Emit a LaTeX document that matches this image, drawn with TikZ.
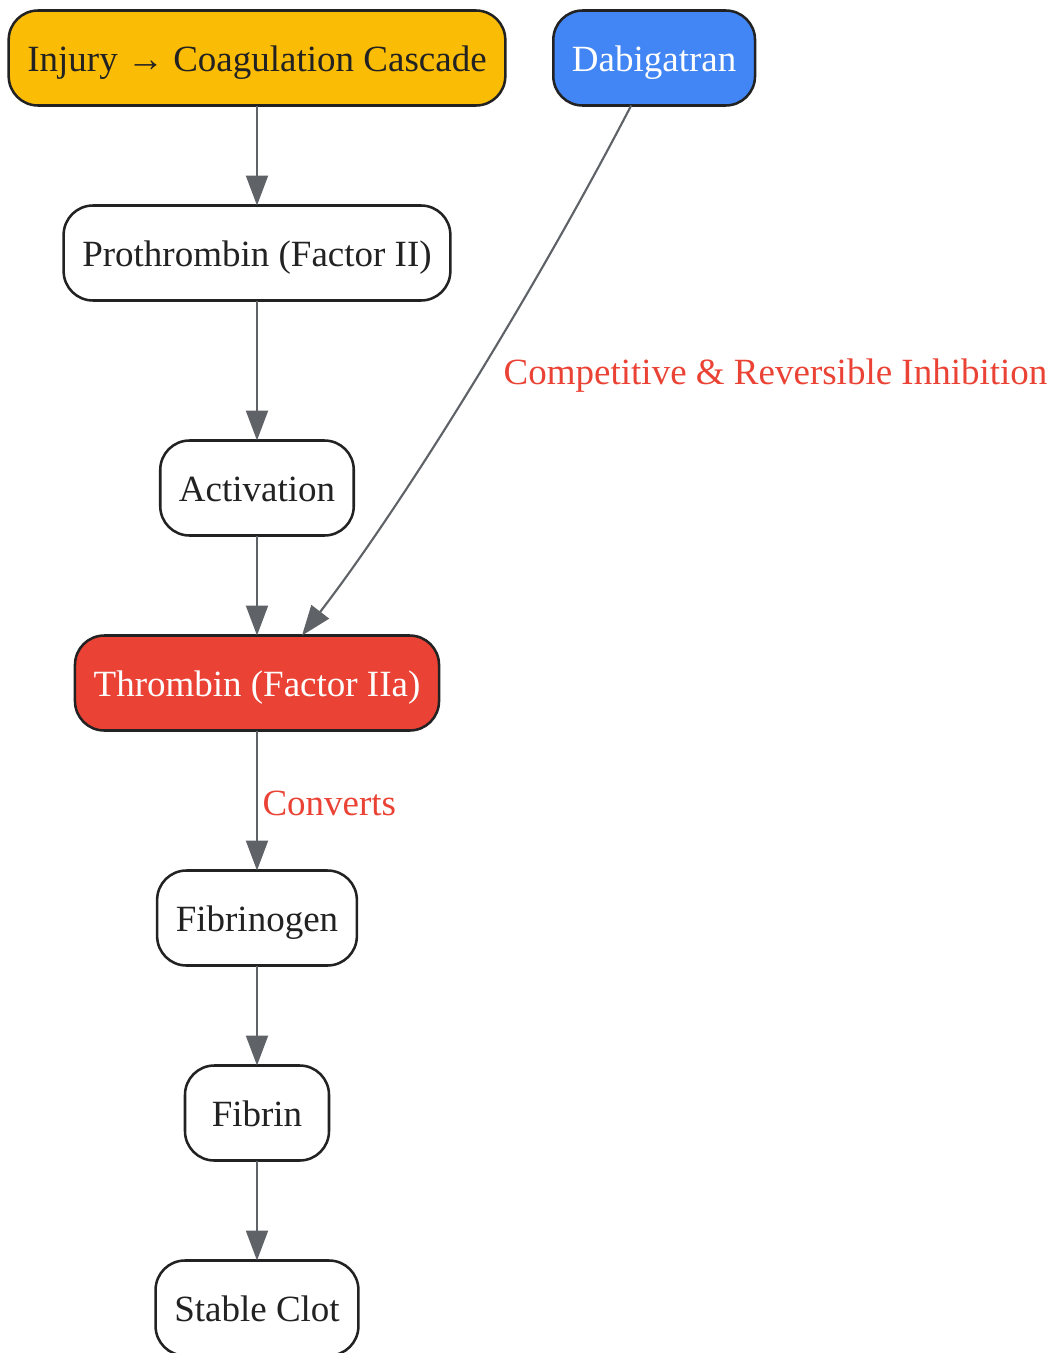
\documentclass[tikz,border=0pt]{standalone}
\usepackage{fontspec}
\setmainfont{Liberation Serif}
\usetikzlibrary{positioning,arrows.meta,calc}
\definecolor{cascade}{HTML}{FBBC05}
\definecolor{drug}{HTML}{4285F4}
\definecolor{enzyme}{HTML}{EA4335}
\definecolor{edgegray}{HTML}{5F6368}
\definecolor{ink}{HTML}{222222}
\begin{document}
\begin{tikzpicture}[x=0.75pt,y=-0.75pt,node distance=75pt,
  >={Triangle[length=22.5pt,width=16.5pt]},
  step node/.style={draw=ink,line width=1.9pt,fill=white,rounded corners=22pt,
    minimum height=71.25pt,inner xsep=14pt,outer sep=0pt,text=ink,
    text height=24pt,text depth=4pt,
    font=\fontsize{27.75}{33}\selectfont},
  flow/.style={->,color=edgegray,line width=1.6pt},
  edge label/.style={text=enzyme,font=\fontsize{27.75}{33}\selectfont}]
            \useasboundingbox (0,0) rectangle (1054,1353);
            \node[step node,fill=cascade] (inj) at (257,58) {Injury → Coagulation Cascade};
            \node[step node,fill=drug,text=white] (dab) [right=36pt of inj]{Dabigatran};
            \node[step node] (pro) [below=of inj]{Prothrombin (Factor II)};
            \node[step node] (act) [below=105pt of pro]{Activation};
            \node[step node,fill=enzyme,text=white] (thr) [below=of act]{Thrombin (Factor IIa)};
            \node[step node] (fbg) [below=105pt of thr]{Fibrinogen};
            \node[step node,minimum width=108pt] (fib) [below=of fbg]{Fibrin};
            \node[step node] (clot) [below=of fib]{Stable Clot};

            \path[flow]
                (inj) edge (pro)
                (pro) edge (act)
                (act) edge (thr)
                (thr) edge node[edge label,right,pos=0.5,yshift=-2.5pt]{Converts} (fbg)
                (fbg) edge (fib)
                (fib) edge (clot)
                ;
            % inhibition arc
            \coordinate (dab out) at ($(dab.south)+(-23,0)$);
            \coordinate (thr in) at ($(thr.north)+(45,0)$);
            \draw[flow] (dab out) .. controls (537,287) and (404,503) .. (thr in);
            \node[edge label,anchor=west] (inh) at (499,376) {Competitive \& Reversible Inhibition};
        \end{tikzpicture}
\end{document}
